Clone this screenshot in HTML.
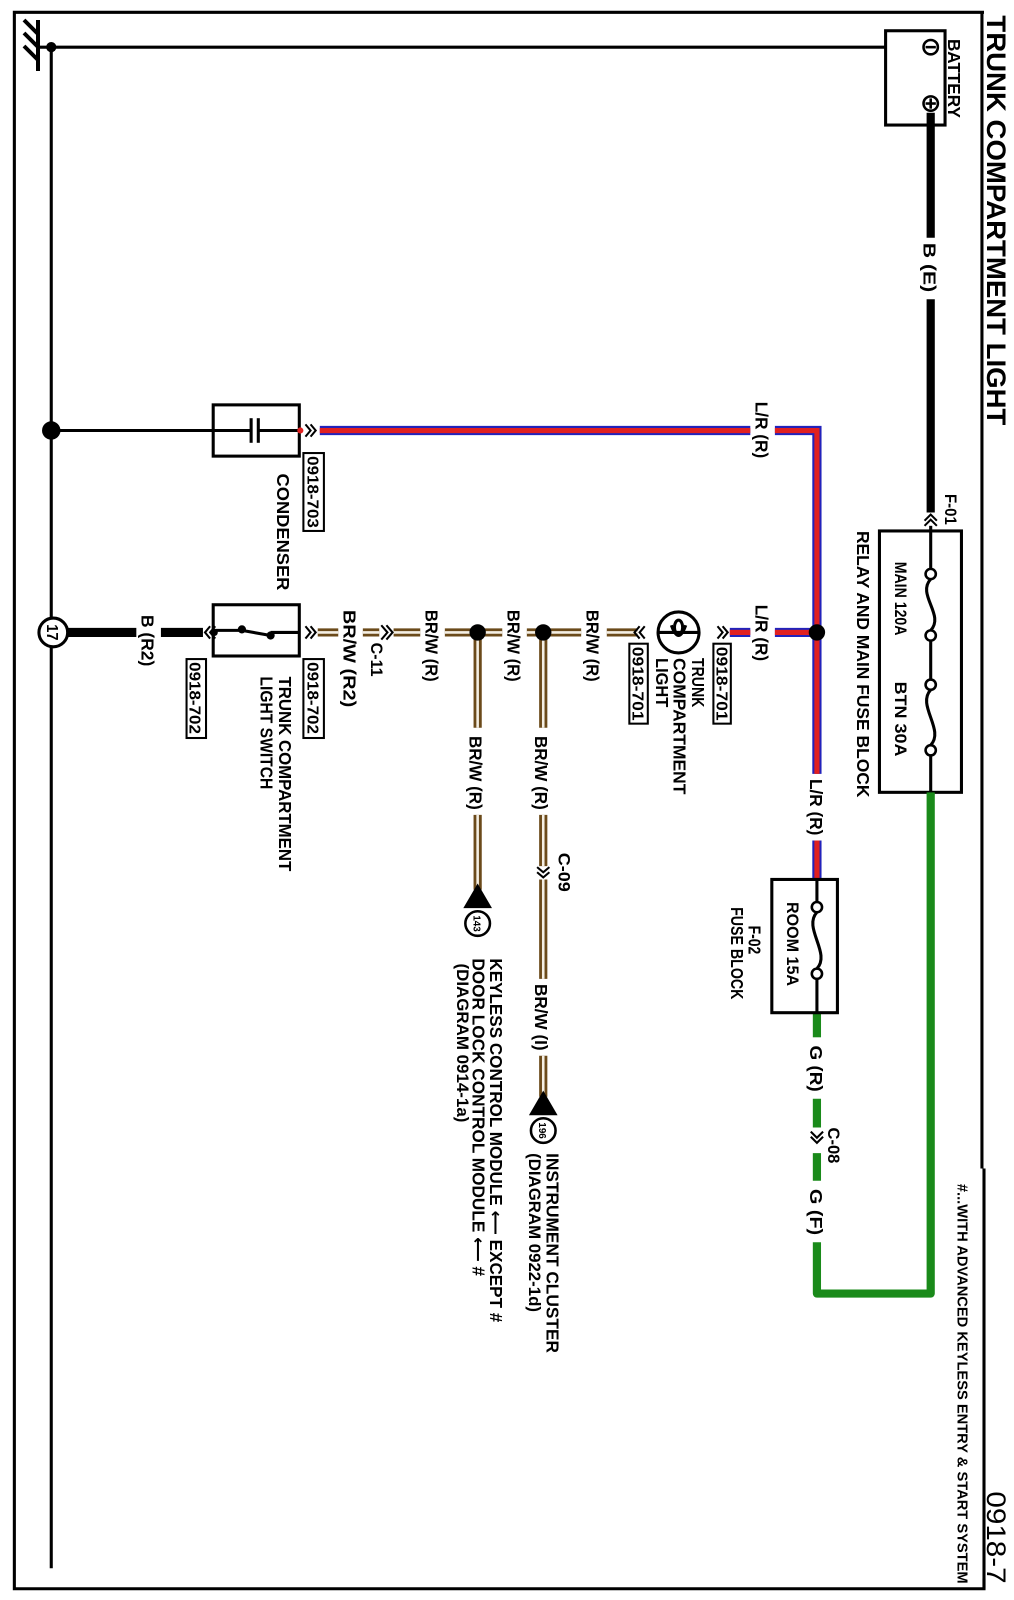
<!DOCTYPE html>
<html><head><meta charset="utf-8"><style>
html,body{margin:0;padding:0;background:#fff;}
svg{display:block}
text{font-family:"Liberation Sans","DejaVu Sans",sans-serif;font-weight:bold;fill:#000}
</style></head><body>
<svg width="1014" height="1600" viewBox="0 0 1014 1600" xmlns="http://www.w3.org/2000/svg">
<rect width="1014" height="1600" fill="#fff"/>
<g stroke="#000" stroke-width="4" fill="none">
<line x1="38" y1="20" x2="38" y2="71"/>
<line x1="38" y1="34" x2="24" y2="20"/>
<line x1="38" y1="47" x2="24" y2="33"/>
<line x1="38" y1="60" x2="24" y2="46"/>
</g>
<g transform="scale(1.025)">
<polyline points="960,12 14,12 14,1550 960,1550 960,1540" fill="none" stroke="#000" stroke-width="3"/>
<line x1="958" y1="12" x2="958" y2="1140" stroke="#000" stroke-width="3"/>
<line x1="960" y1="1140" x2="960" y2="1550" stroke="#000" stroke-width="3"/>
<g stroke="#000" stroke-width="3" fill="none">
<line x1="37" y1="46" x2="905" y2="46"/>
<line x1="50" y1="46" x2="50" y2="1530"/>
<line x1="50" y1="420" x2="245" y2="420"/>
</g>
<circle cx="50" cy="46" r="5"/>
<circle cx="50" cy="420" r="9"/>

<rect x="864" y="30" width="58" height="92" fill="#fff" stroke="#000" stroke-width="3"/>
<g stroke="#000" stroke-width="2.5" fill="#fff">
<circle cx="908" cy="46" r="7"/><circle cx="908" cy="101" r="7"/>
</g>
<g stroke="#000" stroke-width="2.5">
<line x1="903" y1="46" x2="913" y2="46"/>
<line x1="903" y1="101" x2="913" y2="101"/><line x1="908" y1="96" x2="908" y2="106"/>
</g>
<text transform="translate(925,38) rotate(90)" font-size="17" textLength="77" lengthAdjust="spacingAndGlyphs">BATTERY</text>
<g stroke="#000" stroke-width="8">
<line x1="908" y1="110" x2="908" y2="232"/><line x1="908" y1="292" x2="908" y2="500"/>
</g>
<text transform="translate(901,237) rotate(90)" font-size="17" textLength="48" lengthAdjust="spacingAndGlyphs">B (E)</text>
<text transform="translate(922,482) rotate(90)" font-size="16" textLength="30" lengthAdjust="spacingAndGlyphs">F-01</text>
<g stroke="#000" stroke-width="2" fill="none">
<polyline points="902,508 908,502 914,508"/><polyline points="902,513 908,507 914,513"/>
</g>

<rect x="858" y="518" width="80" height="255" fill="#fff" stroke="#000" stroke-width="3"/>
<g stroke="#000" stroke-width="3" fill="none">
<line x1="908" y1="513" x2="908" y2="555"/><line x1="908" y1="625" x2="908" y2="663"/><line x1="908" y1="737" x2="908" y2="773"/>
<path d="M908,565 C894,580 922,600 908,615"/>
<path d="M908,673 C894,688 922,712 908,727"/>
</g>
<g stroke="#000" stroke-width="2.5" fill="#fff">
<circle cx="908" cy="560" r="5"/><circle cx="908" cy="620" r="5"/><circle cx="908" cy="668" r="5"/><circle cx="908" cy="732" r="5"/>
</g>
<text transform="translate(873,548) rotate(90)" font-size="16" textLength="72" lengthAdjust="spacingAndGlyphs">MAIN 120A</text>
<text transform="translate(873,665) rotate(90)" font-size="16" textLength="73" lengthAdjust="spacingAndGlyphs">BTN 30A</text>
<text transform="translate(836,518) rotate(90)" font-size="17" textLength="260" lengthAdjust="spacingAndGlyphs">RELAY AND MAIN FUSE BLOCK</text>

<g stroke="#1a8a1a" stroke-width="8" fill="none" stroke-linejoin="round">
<polyline points="908,773 908,1262 797,1262 797,1212"/>
<line x1="797" y1="1152" x2="797" y2="1125"/><line x1="797" y1="1100" x2="797" y2="1072"/><line x1="797" y1="1012" x2="797" y2="988"/>
</g>
<g stroke="#000" stroke-width="2" fill="none">
<polyline points="791,1104 797,1110 803,1104"/><polyline points="791,1109 797,1115 803,1109"/>
</g>
<text transform="translate(790,1020) rotate(90)" font-size="17" textLength="45" lengthAdjust="spacingAndGlyphs">G (R)</text>
<text transform="translate(808,1100) rotate(90)" font-size="16" textLength="35" lengthAdjust="spacingAndGlyphs">C-08</text>
<text transform="translate(790,1160) rotate(90)" font-size="17" textLength="45" lengthAdjust="spacingAndGlyphs">G (F)</text>

<g fill="none" stroke-linejoin="miter">
<g stroke="#2222bb" stroke-width="9">
<polyline points="312,420 732,420"/><polyline points="756,420 797,420 797,755"/>
<line x1="797" y1="820" x2="797" y2="858"/>
<line x1="712" y1="617" x2="732" y2="617"/><line x1="756" y1="617" x2="797" y2="617"/>
</g>
<g stroke="#e02020" stroke-width="5">
<polyline points="312,420 732,420"/><polyline points="756,420 797,420 797,755"/>
<line x1="797" y1="820" x2="797" y2="858"/>
<line x1="712" y1="617" x2="732" y2="617"/><line x1="756" y1="617" x2="797" y2="617"/>
</g>
</g>
<text transform="translate(737,392) rotate(90)" font-size="17" textLength="55" lengthAdjust="spacingAndGlyphs">L/R (R)</text>
<text transform="translate(737,590) rotate(90)" font-size="17" textLength="55" lengthAdjust="spacingAndGlyphs">L/R (R)</text>
<text transform="translate(790,760) rotate(90)" font-size="17" textLength="55" lengthAdjust="spacingAndGlyphs">L/R (R)</text>
<circle cx="797" cy="617" r="8"/>

<rect x="753" y="858" width="64" height="130" fill="#fff" stroke="#000" stroke-width="3"/>
<g stroke="#000" stroke-width="3" fill="none">
<line x1="797" y1="858" x2="797" y2="880"/><line x1="797" y1="955" x2="797" y2="988"/>
<path d="M797,890 C783,905 811,930 797,945"/>
</g>
<g stroke="#000" stroke-width="2.5" fill="#fff"><circle cx="797" cy="885" r="5"/><circle cx="797" cy="950" r="5"/></g>
<text transform="translate(768,880) rotate(90)" font-size="16" textLength="82" lengthAdjust="spacingAndGlyphs">ROOM 15A</text>
<text transform="translate(730,903) rotate(90)" font-size="17" textLength="28" lengthAdjust="spacingAndGlyphs">F-02</text>
<text transform="translate(713,885) rotate(90)" font-size="17" textLength="90" lengthAdjust="spacingAndGlyphs">FUSE BLOCK</text>

<g fill="none">
<g stroke="#6b4a1a" stroke-width="8">
<line x1="310" y1="617" x2="330" y2="617"/><line x1="354" y1="617" x2="370" y2="617"/><line x1="384" y1="617" x2="410" y2="617"/>
<line x1="434" y1="617" x2="490" y2="617"/><line x1="514" y1="617" x2="567" y2="617"/><line x1="592" y1="617" x2="622" y2="617"/>
<line x1="466" y1="617" x2="466" y2="710"/><line x1="466" y1="795" x2="466" y2="868"/>
<line x1="530" y1="617" x2="530" y2="710"/><line x1="530" y1="795" x2="530" y2="845"/><line x1="530" y1="858" x2="530" y2="955"/><line x1="530" y1="1030" x2="530" y2="1070"/>
</g>
<g stroke="#f4efe4" stroke-width="2.5">
<line x1="310" y1="617" x2="330" y2="617"/><line x1="354" y1="617" x2="370" y2="617"/><line x1="384" y1="617" x2="410" y2="617"/>
<line x1="434" y1="617" x2="490" y2="617"/><line x1="514" y1="617" x2="567" y2="617"/><line x1="592" y1="617" x2="622" y2="617"/>
<line x1="466" y1="617" x2="466" y2="710"/><line x1="466" y1="795" x2="466" y2="868"/>
<line x1="530" y1="617" x2="530" y2="710"/><line x1="530" y1="795" x2="530" y2="845"/><line x1="530" y1="858" x2="530" y2="955"/><line x1="530" y1="1030" x2="530" y2="1070"/>
</g>
</g>
<circle cx="466" cy="617" r="8"/><circle cx="530" cy="617" r="8"/>
<g stroke="#000" stroke-width="2" fill="none">
<polyline points="372,610 378,617 372,624"/><polyline points="377,610 383,617 377,624"/>
<polyline points="524,846 530,851 536,846"/><polyline points="524,851 530,856 536,851"/>
</g>
<text transform="translate(572,595) rotate(90)" font-size="17" textLength="70" lengthAdjust="spacingAndGlyphs">BR/W (R)</text>
<text transform="translate(495,595) rotate(90)" font-size="17" textLength="70" lengthAdjust="spacingAndGlyphs">BR/W (R)</text>
<text transform="translate(415,595) rotate(90)" font-size="17" textLength="70" lengthAdjust="spacingAndGlyphs">BR/W (R)</text>
<text transform="translate(362,627) rotate(90)" font-size="16" textLength="33" lengthAdjust="spacingAndGlyphs">C-11</text>
<text transform="translate(335,595) rotate(90)" font-size="17" textLength="95" lengthAdjust="spacingAndGlyphs">BR/W (R2)</text>
<text transform="translate(458,718) rotate(90)" font-size="17" textLength="72" lengthAdjust="spacingAndGlyphs">BR/W (R)</text>
<text transform="translate(522,718) rotate(90)" font-size="17" textLength="72" lengthAdjust="spacingAndGlyphs">BR/W (R)</text>
<text transform="translate(545,832) rotate(90)" font-size="16" textLength="38" lengthAdjust="spacingAndGlyphs">C-09</text>
<text transform="translate(522,960) rotate(90)" font-size="17" textLength="65" lengthAdjust="spacingAndGlyphs">BR/W (I)</text>

<polygon points="466,862 452,886 480,886"/>
<circle cx="466" cy="901" r="12" fill="#fff" stroke="#000" stroke-width="2.5"/>
<text transform="translate(462,893) rotate(90)" font-size="10" textLength="16" lengthAdjust="spacingAndGlyphs">143</text>
<polygon points="530,1064 516,1088 544,1088"/>
<circle cx="530" cy="1103" r="12" fill="#fff" stroke="#000" stroke-width="2.5"/>
<text transform="translate(526,1095) rotate(90)" font-size="10" textLength="16" lengthAdjust="spacingAndGlyphs">196</text>
<text transform="translate(478,935) rotate(90)" font-size="17" textLength="355" lengthAdjust="spacingAndGlyphs">KEYLESS CONTROL MODULE ⟵ EXCEPT #</text>
<text transform="translate(461,935) rotate(90)" font-size="17" textLength="310" lengthAdjust="spacingAndGlyphs">DOOR LOCK CONTROL MODULE ⟵ #</text>
<text transform="translate(446,940) rotate(90)" font-size="16" textLength="155" lengthAdjust="spacingAndGlyphs">(DIAGRAM 0914-1a)</text>
<text transform="translate(533,1125) rotate(90)" font-size="17" textLength="195" lengthAdjust="spacingAndGlyphs">INSTRUMENT CLUSTER</text>
<text transform="translate(516,1125) rotate(90)" font-size="16" textLength="155" lengthAdjust="spacingAndGlyphs">(DIAGRAM 0922-1d)</text>

<g stroke="#000" stroke-width="2" fill="none">
<polyline points="624,611 619,617 624,623"/><polyline points="629,611 624,617 629,623"/>
<polyline points="700,611 705,617 700,623"/><polyline points="705,611 710,617 705,623"/>
</g>
<circle cx="662" cy="617" r="20" fill="#fff" stroke="#000" stroke-width="3"/>
<g stroke="#000" stroke-width="3" fill="none">
<line x1="642" y1="617" x2="682" y2="617"/>
<path d="M655,610 Q662,630 669,610"/>
<ellipse cx="662" cy="612" rx="4" ry="7"/>
</g>
<rect x="696" y="628" width="17" height="78" fill="#fff" stroke="#000" stroke-width="2"/>
<text transform="translate(699,631) rotate(90)" font-size="15" textLength="72" lengthAdjust="spacingAndGlyphs">0918-701</text>
<rect x="614" y="628" width="18" height="78" fill="#fff" stroke="#000" stroke-width="2"/>
<text transform="translate(617,631) rotate(90)" font-size="15" textLength="72" lengthAdjust="spacingAndGlyphs">0918-701</text>
<text transform="translate(675,642) rotate(90)" font-size="17" textLength="48" lengthAdjust="spacingAndGlyphs">TRUNK</text>
<text transform="translate(657,642) rotate(90)" font-size="17" textLength="133" lengthAdjust="spacingAndGlyphs">COMPARTMENT</text>
<text transform="translate(640,642) rotate(90)" font-size="17" textLength="48" lengthAdjust="spacingAndGlyphs">LIGHT</text>

<rect x="208" y="395" width="84" height="50" fill="#fff" stroke="#000" stroke-width="3"/>
<g stroke="#000" stroke-width="3">
<line x1="208" y1="420" x2="245" y2="420"/><line x1="252" y1="420" x2="292" y2="420"/>
<line x1="245" y1="408" x2="245" y2="432"/><line x1="252" y1="408" x2="252" y2="432"/>
</g>
<circle cx="293" cy="420" r="3" fill="#e02020"/>
<g stroke="#000" stroke-width="2" fill="none">
<polyline points="298,414 303,420 298,426"/><polyline points="303,414 308,420 303,426"/>
</g>
<rect x="296" y="442" width="20" height="76" fill="#fff" stroke="#000" stroke-width="2"/>
<text transform="translate(300,445) rotate(90)" font-size="15" textLength="70" lengthAdjust="spacingAndGlyphs">0918-703</text>
<text transform="translate(270,462) rotate(90)" font-size="17" textLength="114" lengthAdjust="spacingAndGlyphs">CONDENSER</text>

<rect x="208" y="590" width="84" height="50" fill="#fff" stroke="#000" stroke-width="3"/>
<g stroke="#000" stroke-width="3">
<line x1="208" y1="615" x2="236" y2="615"/><line x1="236" y1="615" x2="264" y2="620"/><line x1="264" y1="617" x2="292" y2="617"/>
</g>
<circle cx="236" cy="614" r="4"/><circle cx="264" cy="620" r="4"/><circle cx="209" cy="617" r="3.5"/>
<g stroke="#000" stroke-width="2" fill="none">
<polyline points="298,611 303,617 298,623"/><polyline points="303,611 308,617 303,623"/>
<polyline points="205,611 200,617 205,623"/><polyline points="210,611 205,617 210,623"/>
</g>
<rect x="296" y="643" width="20" height="77" fill="#fff" stroke="#000" stroke-width="2"/>
<text transform="translate(300,646) rotate(90)" font-size="15" textLength="70" lengthAdjust="spacingAndGlyphs">0918-702</text>
<rect x="182" y="643" width="19" height="77" fill="#fff" stroke="#000" stroke-width="2"/>
<text transform="translate(185,646) rotate(90)" font-size="15" textLength="70" lengthAdjust="spacingAndGlyphs">0918-702</text>
<text transform="translate(272,660) rotate(90)" font-size="17" textLength="190" lengthAdjust="spacingAndGlyphs">TRUNK COMPARTMENT</text>
<text transform="translate(254,660) rotate(90)" font-size="17" textLength="110" lengthAdjust="spacingAndGlyphs">LIGHT SWITCH</text>

<g stroke="#000" stroke-width="9">
<line x1="64" y1="617" x2="133" y2="617"/><line x1="157" y1="617" x2="198" y2="617"/>
</g>
<text transform="translate(138,600) rotate(90)" font-size="17" textLength="50" lengthAdjust="spacingAndGlyphs">B (R2)</text>
<circle cx="52" cy="617" r="14" fill="#fff" stroke="#000" stroke-width="3"/>
<text transform="translate(46,609) rotate(90)" font-size="15" textLength="16" lengthAdjust="spacingAndGlyphs">17</text>

<text transform="translate(963,15) rotate(90)" font-size="26" textLength="400" lengthAdjust="spacingAndGlyphs">TRUNK COMPARTMENT LIGHT</text>
<text transform="translate(963,1455) rotate(90)" font-size="26" textLength="90" lengthAdjust="spacingAndGlyphs" style="font-weight:normal">0918-7</text>
<text transform="translate(934,1155) rotate(90)" font-size="14" textLength="390" lengthAdjust="spacingAndGlyphs">#...WITH ADVANCED KEYLESS ENTRY &amp; START SYSTEM</text>
</g>
</svg>
</body></html>
